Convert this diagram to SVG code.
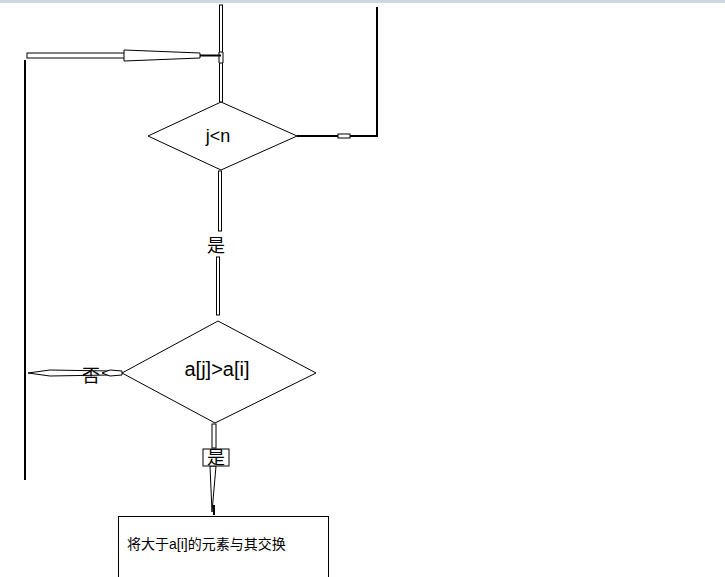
<svg xmlns="http://www.w3.org/2000/svg" width="725" height="577" viewBox="0 0 725 577">
<style>
.s{fill:#fff;stroke:#000;stroke-width:1}
.l{fill:none;stroke:#000;stroke-width:2}
.t{font-family:"Liberation Sans","Noto Sans CJK SC",sans-serif;fill:#000}
</style>
<rect x="0" y="0" width="725" height="577" fill="#fff"/>
<rect x="0" y="0" width="725" height="3" fill="#d0d6e0"/>
<g id="connectors">
<rect class="s" x="219.5" y="5" width="3" height="97"/>
<polygon class="s" points="219,52 223,52 223,63 219,63"/>
<rect class="s" x="27" y="53" width="100" height="5"/>
<polygon class="s" points="124,50 200,53 200,58 124,61"/>
<line class="l" x1="200" y1="55.5" x2="221" y2="55.5"/>
<line class="l" x1="25" y1="60" x2="25" y2="480"/>
<polyline class="l" points="297,136 377,136 377,7"/>
<rect class="s" x="338" y="134" width="12" height="4"/>
<rect class="s" x="218.5" y="171" width="3" height="60"/>
<rect class="s" x="216.5" y="257" width="3" height="58"/>
<polygon class="s" points="28,373 50,370 110,371 110,375 50,376"/>
<polygon class="s" points="102,373 110,370 122,371 122,375 110,376"/>
<rect class="s" x="212" y="424" width="4" height="24"/>
<polygon class="s" points="214,466 210,466 212,512 216,466"/>
<line class="l" x1="214" y1="505" x2="214" y2="515"/>
</g>
<g id="n1"><polygon class="s" points="221,102 297,136 221,170 148,136"/><text class="t" x="218" y="142" font-size="18" text-anchor="middle">j&lt;n</text></g>
<g id="l1"><text class="t" x="216" y="252" font-size="18" text-anchor="middle">是</text></g>
<g id="n2"><polygon class="s" points="218,321 316,373 215,423 122,373"/><text class="t" x="217" y="376" font-size="20" text-anchor="middle">a[j]&gt;a[i]</text></g>
<g id="l2"><text class="t" x="91" y="382" font-size="18" text-anchor="middle">否</text></g>
<g id="l3"><rect class="s" x="203" y="449" width="26" height="17"/><text class="t" x="216" y="464" font-size="18" text-anchor="middle">是</text></g>
<g id="n3"><rect class="s" x="118.5" y="516.5" width="210" height="62"/><text class="t" x="127" y="549" font-size="14">将大于a[i]的元素与其交换</text></g>
</svg>
